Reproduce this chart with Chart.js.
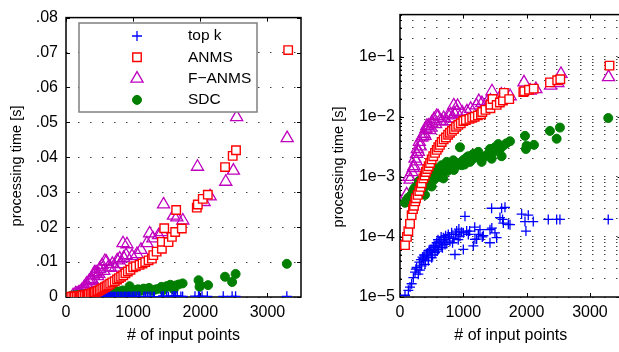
<!DOCTYPE html>
<html lang="en">
<head>
<meta charset="UTF-8" />
<title>Processing time vs. number of input points</title>
<script src="https://cdn.jsdelivr.net/npm/chart.js"></script>
<style>
  html, body { margin: 0; padding: 0; background: #fff; overflow: hidden; }
  body { width: 619px; height: 352px; position: relative; }
  canvas { position: absolute; top: 0; }
  #linChart { left: 0; }
  #logChart { left: 310px; }
</style>
</head>
<body>
<canvas id="linChart" width="310" height="352"></canvas>
<canvas id="logChart" width="320" height="352"></canvas>

<script>
  const seriesNames = ["top k", "ANMS", "F\u2212ANMS", "SDC"];

  // top k (blue +)
  const topkX = [79, 132, 158, 184, 211, 237, 250, 263, 289, 305, 316, 330, 342, 355, 368, 380, 395, 400, 421, 435,
    447, 460, 474, 490, 500, 515, 526, 540, 553, 565, 579, 590, 600, 605, 620, 632, 650, 658, 670, 684,
    700, 711, 720, 740, 763, 780, 789, 816, 830, 850, 868, 880, 895, 920, 930, 947, 970, 1000, 1000, 1026,
    1053, 1079, 1100, 1158, 1180, 1184, 1211, 1237, 1263, 1300, 1316, 1421, 1421, 1447, 1450, 1500, 1526, 1579, 1605, 1620,
    1632, 1658, 1711, 1737, 1921, 1974, 1989, 2026, 2105, 2342, 2474, 2526, 3289];
  const topkY = [1.07e-5, 1.29e-5, 1.46e-5, 1.66e-5, 2.1e-5, 2.6e-5, 2.9e-5, 3.1e-5, 2.4e-5, 3.8e-5, 2.8e-5, 4.2e-5, 3.3e-5, 4.6e-5, 4.3e-5, 5.0e-5, 3.5e-5, 4.1e-5, 4.8e-5, 5.4e-5,
    4.0e-5, 6.0e-5, 5.8e-5, 6.2e-5, 4.5e-5, 5.0e-5, 6.6e-5, 7.2e-5, 5.5e-5, 7.0e-5, 8.0e-5, 5.8e-5, 9.0e-5, 6.2e-5, 8.0e-5, 8.5e-5, 1.0e-4, 7.1e-5, 6.6e-5, 9.7e-5,
    9.0e-5, 7.5e-5, 1.05e-4, 8.0e-5, 1.1e-4, 1.0e-4, 8.5e-5, 1.17e-4, 8.0e-5, 9.5e-5, 5.1e-5, 1.1e-4, 1.25e-4, 9.0e-5, 1.35e-4, 1.03e-4, 1.2e-4, 1.17e-4, 6.2e-5, 2.2e-4,
    1.25e-4, 1.1e-4, 1.25e-4, 7.1e-5, 1.45e-4, 9.1e-5, 9.2e-5, 1.1e-4, 1.32e-4, 1.0e-4, 1.05e-4, 1.32e-4, 8.0e-5, 3.0e-4, 1.4e-4, 1.17e-4, 9.7e-5, 2.1e-4, 3.0e-4, 1.95e-4,
    1.7e-4, 3.1e-4, 1.62e-4, 1.6e-4, 2.4e-4, 1.8e-4, 1.25e-4, 2.3e-4, 1.8e-4, 1.95e-4, 1.95e-4, 1.95e-4, 1.95e-4];

  // ANMS (red squares)
  const anmsX = [79, 110, 132, 158, 184, 205, 221, 240, 253, 280, 305, 325, 342, 368, 390, 410, 430, 453, 475, 500,
    525, 553, 580, 605, 630, 658, 690, 726, 760, 789, 820, 853, 885, 921, 960, 1000, 1040, 1096, 1140, 1180,
    1230, 1279, 1300, 1350, 1428, 1428, 1463, 1527, 1577, 1626, 1641, 1725, 1948, 1963, 2037, 2112, 2369, 2483, 2532, 3309];
  const anmsY = [7.3e-5, 1.0e-4, 1.25e-4, 1.65e-4, 2.3e-4, 2.9e-4, 3.3e-4, 3.9e-4, 4.4e-4, 5.0e-4, 5.8e-4, 6.8e-4, 7.8e-4, 9.4e-4, 1.05e-3, 1.2e-3, 1.35e-3, 1.5e-3, 1.7e-3, 1.95e-3,
    2.2e-3, 2.5e-3, 2.8e-3, 3.1e-3, 3.4e-3, 3.8e-3, 4.2e-3, 4.5e-3, 5.0e-3, 5.4e-3, 5.8e-3, 6.2e-3, 6.8e-3, 7.3e-3, 7.8e-3, 8.5e-3, 8.8e-3, 9.2e-3, 9.6e-3, 1.0e-2,
    1.05e-2, 1.1e-2, 1.2e-2, 1.3e-2, 1.38e-2, 1.58e-2, 1.97e-2, 1.57e-2, 1.72e-2, 1.86e-2, 2.49e-2, 1.96e-2, 2.56e-2, 2.65e-2, 2.81e-2, 2.93e-2, 3.72e-2, 4.04e-2, 4.2e-2, 7.07e-2];

  // F-ANMS (magenta triangles)
  const fanmsX = [105, 142, 160, 184, 210, 221, 237, 255, 263, 274, 290, 305, 320, 342, 364, 379, 395, 410, 423, 447,
    470, 488, 500, 537, 562, 579, 601, 630, 661, 690, 735, 763, 800, 819, 849, 859, 895, 908, 983, 1057,
    1116, 1205, 1245, 1294, 1379, 1428, 1453, 1601, 1651, 1740, 1958, 2057, 2146, 2379, 2493, 2542, 3294];
  const fanmsY = [5.1e-4, 1.0e-3, 9.0e-4, 1.2e-3, 1.4e-3, 1.5e-3, 2.0e-3, 1.8e-3, 2.4e-3, 2.9e-3, 2.6e-3, 3.8e-3, 3.2e-3, 4.5e-3, 4.7e-3, 5.2e-3, 4.8e-3, 6.2e-3, 7.0e-3, 7.1e-3,
    6.0e-3, 6.6e-3, 8.0e-3, 9.1e-3, 7.5e-3, 1.03e-2, 1.01e-2, 8.5e-3, 8.4e-3, 9.5e-3, 8.4e-3, 1.05e-2, 1.1e-2, 9.4e-3, 1.54e-2, 1.12e-2, 1.2e-2, 1.51e-2, 1.17e-2, 1.23e-2,
    1.35e-2, 1.54e-2, 1.82e-2, 1.68e-2, 1.77e-2, 1.86e-2, 2.65e-2, 2.33e-2, 2.28e-2, 2.19e-2, 3.73e-2, 2.72e-2, 2.88e-2, 3.3e-2, 3.62e-2, 5.15e-2, 4.55e-2];

  // SDC (green dots)
  const sdcX = [79, 105, 130, 158, 180, 211, 230, 240, 263, 275, 290, 300, 316, 330, 340, 360, 380, 395, 410, 421,
    440, 450, 460, 474, 490, 500, 520, 540, 553, 570, 579, 600, 615, 632, 640, 658, 670, 684, 700, 720,
    737, 750, 760, 789, 810, 842, 850, 868, 900, 920, 947, 974, 1000, 1020, 1053, 1080, 1105, 1130, 1158, 1184,
    1210, 1237, 1270, 1289, 1342, 1390, 1421, 1447, 1480, 1500, 1553, 1580, 1605, 1632, 1680, 1737, 1974, 1989, 2000, 2116,
    2368, 2474, 2526, 3289];
  const sdcY = [3.7e-4, 4.1e-4, 4.5e-4, 3.9e-4, 5.0e-4, 6.0e-4, 6.5e-4, 5.5e-4, 6.9e-4, 6.0e-4, 7.2e-4, 8.5e-4, 7.8e-4, 7.0e-4, 6.2e-4, 8.8e-4, 9.5e-4, 5.0e-4, 7.0e-4, 8.3e-4,
    1.0e-3, 7.5e-4, 8.0e-4, 9.4e-4, 1.1e-3, 6.9e-4, 1.0e-3, 9.0e-4, 1.07e-3, 1.2e-3, 1.38e-3, 1.1e-3, 1.0e-3, 1.2e-3, 1.4e-3, 1.56e-3, 1.15e-3, 9.4e-4, 1.3e-3, 1.6e-3,
    1.77e-3, 1.25e-3, 1.5e-3, 1.38e-3, 1.6e-3, 1.88e-3, 1.3e-3, 1.45e-3, 1.6e-3, 1.7e-3, 3.1e-3, 1.56e-3, 1.9e-3, 1.6e-3, 2.1e-3, 2.2e-3, 1.77e-3, 1.9e-3, 2.4e-3, 2.1e-3,
    2.3e-3, 2.6e-3, 2.0e-3, 1.77e-3, 2.2e-3, 2.4e-3, 2.9e-3, 2.0e-3, 2.6e-3, 3.1e-3, 3.5e-3, 2.9e-3, 2.2e-3, 3.3e-3, 3.6e-3, 3.9e-3, 4.8e-3, 2.9e-3, 3.3e-3, 3.4e-3,
    5.8e-3, 4.3e-3, 6.6e-3, 9.5e-3];

  // axis ticks
  const xTicks = [0, 1000, 2000, 3000];
  const linYTicks = [0, 0.01, 0.02, 0.03, 0.04, 0.05, 0.06, 0.07, 0.08];
  const linYLabels = ["0", ".01", ".02", ".03", ".04", ".05", ".06", ".07", ".08"];
  const logYDecades = [1e-5, 1e-4, 1e-3, 1e-2, 1e-1];
  const logYLabels = ["1e\u22125", "1e\u22124", "1e\u22123", "1e\u22122", "1e\u22121"];
  const yTitle = "processing time [s]";
  const xTitle = "# of input points";

  const FONT = "'Liberation Sans', Arial, Helvetica, sans-serif";
  Chart.defaults.font.family = FONT;
  Chart.defaults.color = "#000";

  const styles = [
    { pointStyle: "cross", pointRadius: 5, pointBorderColor: "#0000ff", pointBackgroundColor: "#0000ff", pointBorderWidth: 1.3, order: 1 },
    { pointStyle: "rect", pointRadius: 6, pointBorderColor: "#ff0000", pointBackgroundColor: "#ffffff", pointBorderWidth: 1.4, order: 0 },
    { pointStyle: "triangle", pointRadius: 7, pointBorderColor: "#bf00bf", pointBackgroundColor: "rgba(0,0,0,0)", pointBorderWidth: 1.3, order: 3 },
    { pointStyle: "circle", pointRadius: 4.5, pointBorderColor: "#007f00", pointBackgroundColor: "#007f00", pointBorderWidth: 1, order: 2 }
  ];

  function toPoints(xs, ys) {
    return xs.map((x, i) => ({ x: x, y: ys[i] }));
  }

  function makeDatasets() {
    const all = [[topkX, topkY], [anmsX, anmsY], [fanmsX, fanmsY], [sdcX, sdcY]];
    return all.map((d, i) => Object.assign({ label: seriesNames[i], data: toPoints(d[0], d[1]) }, styles[i]));
  }

  // black box around the plot, small inward ticks and the rotated y title
  const framePlugin = {
    id: "frame",
    beforeDatasetsDraw(chart, args, opts) {
      const { ctx, chartArea: a, scales } = chart;
      ctx.save();
      ctx.strokeStyle = "#000";
      ctx.lineWidth = 1.5;
      ctx.strokeRect(a.left, a.top, a.right - a.left, a.bottom - a.top);
      ctx.lineWidth = 1;
      ctx.beginPath();
      scales.x.ticks.forEach(t => {
        const px = Math.round(scales.x.getPixelForValue(t.value)) + 0.5;
        ctx.moveTo(px, a.bottom); ctx.lineTo(px, a.bottom - 4);
        ctx.moveTo(px, a.top); ctx.lineTo(px, a.top + 4);
      });
      scales.y.ticks.forEach(t => {
        const py = Math.round(scales.y.getPixelForValue(t.value)) + 0.5;
        const len = t.label ? 4 : 2;
        ctx.moveTo(a.left, py); ctx.lineTo(a.left + len, py);
        ctx.moveTo(a.right, py); ctx.lineTo(a.right - len, py);
      });
      ctx.stroke();

      ctx.translate(opts.titleX, opts.titleY);
      ctx.rotate(-Math.PI / 2);
      ctx.font = "14.5px " + FONT;
      ctx.fillStyle = "#000";
      ctx.textAlign = "center";
      ctx.textBaseline = "middle";
      ctx.fillText(yTitle, 0, 0);
      ctx.restore();
    }
  };

  // legend box inside the left plot
  const legendPlugin = {
    id: "boxLegend",
    afterDraw(chart) {
      const ctx = chart.ctx;
      const box = { x: 79, y: 23, w: 178, h: 89 };
      ctx.save();
      ctx.fillStyle = "#fff";
      ctx.fillRect(box.x, box.y, box.w, box.h);
      ctx.strokeStyle = "#808080";
      ctx.lineWidth = 1.5;
      ctx.strokeRect(box.x, box.y, box.w, box.h);
      ctx.font = "15.5px " + FONT;
      ctx.textBaseline = "middle";
      seriesNames.forEach((name, i) => {
        const s = styles[i];
        const y = box.y + 13 + i * 21.3;
        ctx.strokeStyle = s.pointBorderColor;
        ctx.fillStyle = s.pointBackgroundColor;
        ctx.lineWidth = s.pointBorderWidth;
        Chart.helpers.drawPoint(ctx, { pointStyle: s.pointStyle, radius: s.pointRadius, borderWidth: s.pointBorderWidth, rotation: 0 }, 137, y);
        ctx.fillStyle = "#000";
        ctx.fillText(name, 188, y);
      });
      ctx.restore();
    }
  };

  function xScale() {
    return {
      type: "linear",
      min: 0,
      max: 3500,
      afterBuildTicks: s => { s.ticks = xTicks.map(v => ({ value: v })); },
      afterFit: s => { s.height = 55; },
      ticks: { callback: v => String(v), font: { size: 16 }, padding: 6, maxRotation: 0, autoSkip: false },
      grid: { display: false, drawTicks: false },
      border: { display: false },
      title: { display: true, text: xTitle, font: { size: 16 }, padding: { top: 0, bottom: 7 } }
    };
  }

  new Chart(document.getElementById("linChart"), {
    type: "scatter",
    data: { datasets: makeDatasets() },
    options: {
      responsive: false,
      animation: false,
      layout: { padding: { top: 9.5, right: 9, bottom: 0, left: 0 } },
      plugins: { legend: { display: false }, tooltip: { enabled: false }, frame: { titleX: 17, titleY: 166 } },
      scales: {
        x: xScale(),
        y: {
          type: "linear",
          min: 0,
          max: 0.08,
          afterBuildTicks: s => { s.ticks = linYTicks.map(v => ({ value: v })); },
          afterFit: s => { s.width = 66; },
          ticks: { callback: (v, i) => linYLabels[i], font: { size: 16 }, padding: 8, autoSkip: false },
          grid: { color: "#444", lineWidth: 1, drawTicks: false },
          border: { display: false, dash: [1.5, 10.5] }
        }
      }
    },
    plugins: [framePlugin, legendPlugin]
  });

  // all 1..9 x 10^k grid lines of the log axis
  const logGrid = [];
  logYDecades.forEach(d => {
    for (let m = 1; m <= 9; m++) {
      if (d * m <= 0.5) logGrid.push(d * m);
    }
  });

  new Chart(document.getElementById("logChart"), {
    type: "scatter",
    data: { datasets: makeDatasets() },
    options: {
      responsive: false,
      animation: false,
      layout: { padding: { top: 11, right: 8.4, bottom: 0, left: 0 } },
      plugins: { legend: { display: false }, tooltip: { enabled: false }, frame: { titleX: 29, titleY: 167 } },
      scales: {
        x: xScale(),
        y: {
          type: "logarithmic",
          min: 1e-5,
          max: 0.5,
          afterBuildTicks: s => { s.ticks = logGrid.map(v => ({ value: v })); },
          afterFit: s => { s.width = 90; },
          ticks: {
            callback: v => {
              const i = logYDecades.findIndex(d => Math.abs(v / d - 1) < 1e-6);
              return i >= 0 ? logYLabels[i] : "";
            },
            font: { size: 16 }, padding: 5, autoSkip: false
          },
          grid: { color: "#444", lineWidth: 1, drawTicks: false },
          border: { display: false, dash: [1.5, 10.5] }
        }
      }
    },
    plugins: [framePlugin]
  });
</script>
</body>
</html>
